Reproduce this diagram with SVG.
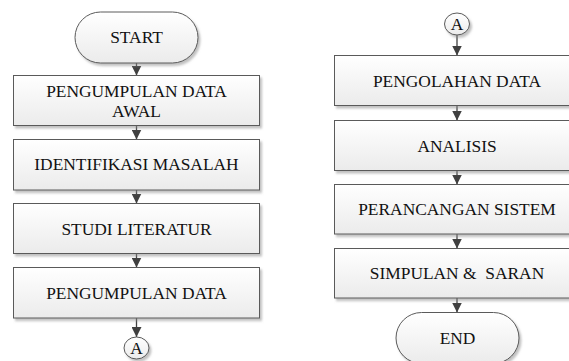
<svg xmlns="http://www.w3.org/2000/svg" width="569" height="361" viewBox="0 0 569 361">
<defs>
<linearGradient id="g" x1="0" y1="0" x2="0" y2="1">
<stop offset="0" stop-color="#ffffff"/>
<stop offset="1" stop-color="#ebebeb"/>
</linearGradient>
<filter id="sh" x="-10%" y="-10%" width="130%" height="140%">
<feDropShadow dx="2" dy="2.5" stdDeviation="1" flood-color="#8c8c8c" flood-opacity="0.55"/>
</filter>
<marker id="ah" viewBox="0 0 10 10" refX="10" refY="5" markerWidth="10" markerHeight="10" markerUnits="userSpaceOnUse" orient="auto">
<path d="M0,0 L10,5 L0,10 z" fill="#404040"/>
</marker>
</defs>
<style>
.box{fill:url(#g);stroke:#5a5a5a;stroke-width:1;filter:url(#sh)}
text{font-family:'Liberation Serif','Times New Roman',serif;font-size:17.4px;fill:#111;text-anchor:middle}
.c{stroke:#404040;stroke-width:1.3;fill:none;marker-end:url(#ah)}
</style>
<rect width="569" height="361" fill="#ffffff"/>

<g id="connectors">
<line class="c" x1="136.5" y1="63" x2="136.5" y2="75.5"/>
<line class="c" x1="136.5" y1="125.5" x2="136.5" y2="139.5"/>
<line class="c" x1="136.5" y1="190" x2="136.5" y2="203.5"/>
<line class="c" x1="136.5" y1="253.5" x2="136.5" y2="267.5"/>
<line class="c" x1="136.5" y1="318" x2="136.5" y2="337"/>
<line class="c" x1="457" y1="35" x2="457" y2="55.5"/>
<line class="c" x1="457" y1="105.5" x2="457" y2="120.5"/>
<line class="c" x1="457" y1="170.5" x2="457" y2="184.5"/>
<line class="c" x1="457" y1="234" x2="457" y2="248.5"/>
<line class="c" x1="457" y1="298" x2="457" y2="312.5"/>
</g>

<g id="start">
<rect class="box" x="75" y="12" width="123" height="51" rx="25.5" ry="25.5"/>
<text x="136.5" y="43">START</text>
</g>
<g id="pengumpulan-data-awal">
<rect class="box" x="13.5" y="75.5" width="246" height="50"/>
<text x="136.5" y="97">PENGUMPULAN DATA</text>
<text x="136.5" y="117">AWAL</text>
</g>
<g id="identifikasi-masalah">
<rect class="box" x="13.5" y="139.5" width="246" height="50.5"/>
<text x="136.5" y="170">IDENTIFIKASI MASALAH</text>
</g>
<g id="studi-literatur">
<rect class="box" x="13.5" y="203.5" width="246" height="50"/>
<text x="136.5" y="234.5">STUDI LITERATUR</text>
</g>
<g id="pengumpulan-data">
<rect class="box" x="13.5" y="267.5" width="246" height="50.5"/>
<text x="136.5" y="298.5">PENGUMPULAN DATA</text>
</g>
<g id="connector-a-left">
<ellipse class="box" cx="136.5" cy="348" rx="12.5" ry="11"/>
<text x="136.5" y="354">A</text>
</g>

<g id="connector-a-right">
<ellipse class="box" cx="457" cy="24" rx="12.5" ry="11"/>
<text x="457" y="30">A</text>
</g>
<g id="pengolahan-data">
<rect class="box" x="334.5" y="55.5" width="248" height="50"/>
<text x="457" y="87">PENGOLAHAN DATA</text>
</g>
<g id="analisis">
<rect class="box" x="334.5" y="120.5" width="248" height="50"/>
<text x="457" y="151.5">ANALISIS</text>
</g>
<g id="perancangan-sistem">
<rect class="box" x="334.5" y="184.5" width="248" height="49.5"/>
<text x="457" y="215">PERANCANGAN SISTEM</text>
</g>
<g id="simpulan-saran">
<rect class="box" x="334.5" y="248.5" width="248" height="49.5"/>
<text x="457" y="279" xml:space="preserve">SIMPULAN &amp;  SARAN</text>
</g>
<g id="end">
<rect class="box" x="396" y="312.5" width="123" height="51" rx="25.5" ry="25.5"/>
<text x="457.5" y="343.5">END</text>
</g>
</svg>
